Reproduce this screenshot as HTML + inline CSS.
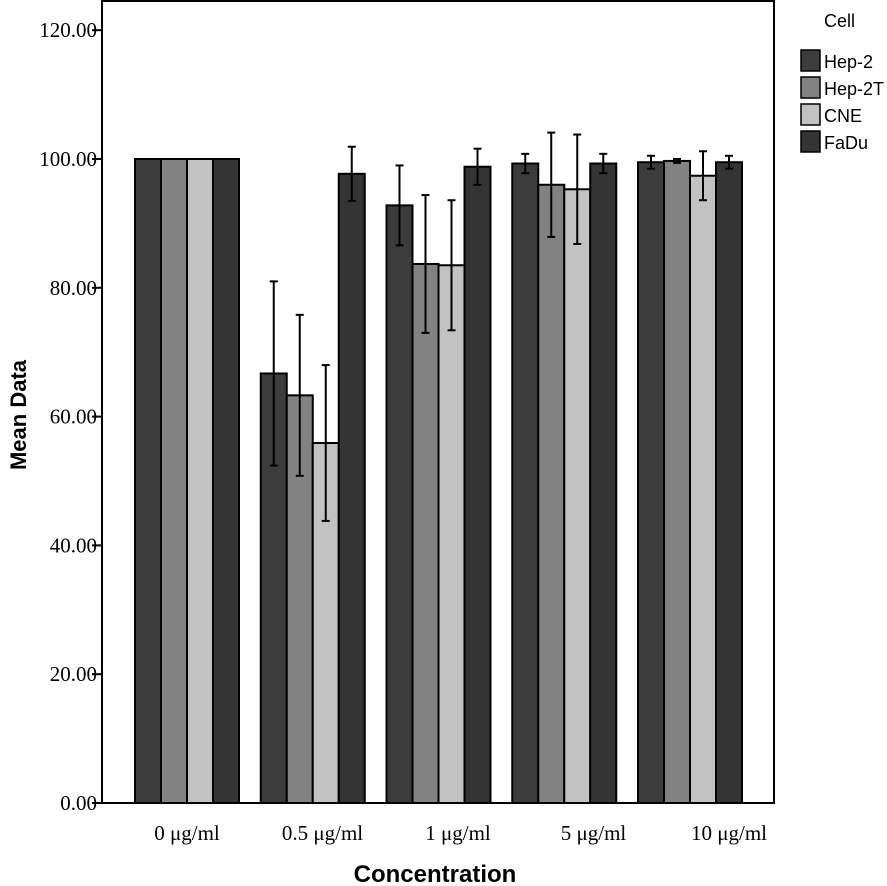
<!DOCTYPE html>
<html><head><meta charset="utf-8"><style>
body{margin:0;background:#fff;}
svg{display:block;}
.tk{font-family:"Liberation Serif",serif;font-size:21px;fill:#000;}
.ttl{font-family:"Liberation Sans",sans-serif;font-weight:bold;fill:#000;}
.lg{font-family:"Liberation Sans",sans-serif;font-size:18px;fill:#000;}
</style></head><body>
<svg id="chart" width="887" height="886">
<rect x="102" y="1" width="672" height="802" fill="none" stroke="#000" stroke-width="2"/>
<g id="bars"></g>
<g id="yaxis"></g>
<g id="xaxis"></g>
<text class="ttl" font-size="22" transform="translate(26,415) rotate(-90)" text-anchor="middle">Mean Data</text>
<text class="ttl" font-size="24" x="435" y="882" text-anchor="middle">Concentration</text>
<g id="legend">
<text class="lg" x="824" y="27" font-size="21">Cell</text>
</g>
</svg>
<script>
const categories = ["0 μg/ml","0.5 μg/ml","1 μg/ml","5 μg/ml","10 μg/ml"];
const seriesNames = ["Hep-2","Hep-2T","CNE","FaDu"];
const seriesColors = ["#3c3c3c","#828282","#c2c2c2","#343434"];
const hep2 = [100,66.7,92.8,99.3,99.5];
const hep2T = [100,63.3,83.7,96.0,99.7];
const cne = [100,55.9,83.5,95.3,97.4];
const fadu = [100,97.7,98.8,99.3,99.5];
const hep2Err = [0,14.3,6.2,1.5,1.0];
const hep2TErr = [0,12.5,10.7,8.1,0.3];
const cneErr = [0,12.1,10.1,8.5,3.8];
const faduErr = [0,4.2,2.8,1.5,1.0];
const yTicks = [0,20,40,60,80,100,120];
const yTickLabels = ["0.00","20.00","40.00","60.00","80.00","100.00","120.00"];

const NS="http://www.w3.org/2000/svg";
const y = v => 803 - v*6.44;
const xc = i => 187 + i*125.75;
const xl = i => 187 + i*135.5;
const bw = 26;
function mk(tag, attrs, parent){const e=document.createElementNS(NS,tag);for(const k in attrs)e.setAttribute(k,attrs[k]);parent.appendChild(e);return e;}
const series=[hep2,hep2T,cne,fadu], errs=[hep2Err,hep2TErr,cneErr,faduErr];
const bars=document.getElementById('bars');
categories.forEach((c,i)=>{
  series.forEach((s,j)=>{
    const x0 = xc(i) - 2*bw + j*bw;
    const r = mk('rect',{x:x0,y:y(s[i]),width:bw,height:803-y(s[i]),fill:seriesColors[j],stroke:'#000','stroke-width':2},bars);
    
    
    const e=errs[j][i];
    if(e>0){
      const cx=x0+bw/2;
      const g=mk('g',{stroke:'#000','stroke-width':2},bars);
      
      
      mk('line',{x1:cx,x2:cx,y1:y(s[i]+e),y2:y(s[i]-e)},g);
      mk('line',{x1:cx-4,x2:cx+4,y1:y(s[i]+e),y2:y(s[i]+e)},g);
      mk('line',{x1:cx-4,x2:cx+4,y1:y(s[i]-e),y2:y(s[i]-e)},g);
    }
  });
});
const ya=document.getElementById('yaxis');
yTicks.forEach((t,k)=>{
  const l=mk('line',{x1:92,x2:102,y1:y(t),y2:y(t),stroke:'#000','stroke-width':2},ya);
  
  
  const tx=mk('text',{x:97,y:y(t)+7,'text-anchor':'end',class:'tk'},ya);
  
  
  tx.textContent=yTickLabels[k];
});
const xa=document.getElementById('xaxis');
categories.forEach((c,i)=>{
  const tx=mk('text',{x:xl(i),y:840,'text-anchor':'middle',class:'tk'},xa);
  
  
  tx.textContent=c;
});
const lg=document.getElementById('legend');
seriesNames.forEach((n,j)=>{
  const yy=50+j*27;
  const r=mk('rect',{x:801,y:yy,width:19,height:21,fill:seriesColors[j],stroke:'#000','stroke-width':1.5},lg);
  
  
  const t=mk('text',{x:824,y:yy+18,class:'lg'},lg);
  
  
  t.textContent=n;
});
</script>
</body></html>
